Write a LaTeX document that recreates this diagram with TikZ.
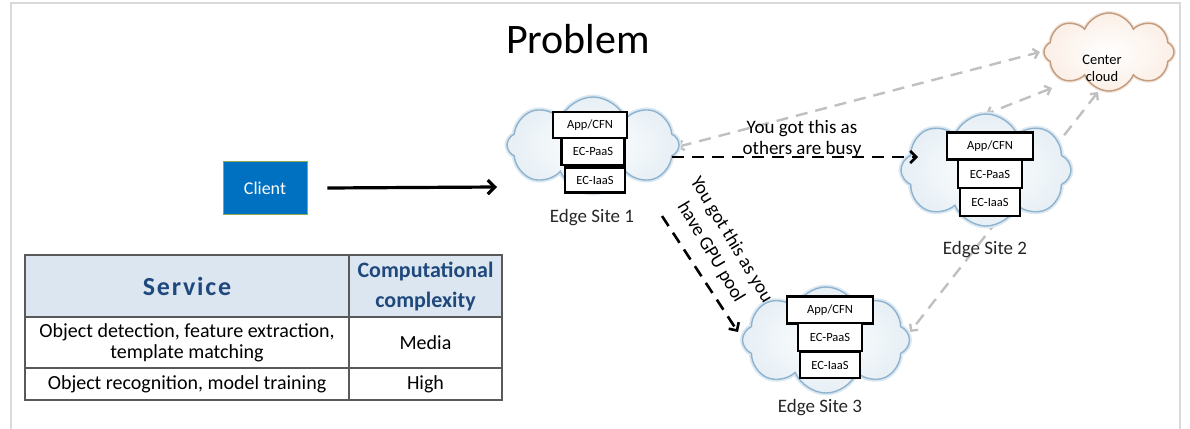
\documentclass[tikz,border=0pt]{standalone}
\usepackage{fontspec}
\setmainfont{Carlito}
\newfontfamily\spacedfont[LetterSpace=7]{Carlito}
\usetikzlibrary{shapes.symbols,arrows.meta,calc,backgrounds}
\definecolor{framegray}{HTML}{D9D9D9}
\definecolor{arrgray}{HTML}{C0C0C0}
\definecolor{cloudedge}{HTML}{8FB3CE}
\definecolor{cloudglow}{HTML}{DCE8F1}
\definecolor{cloudouter}{HTML}{E6EFF5}
\definecolor{ccedge}{HTML}{C29A7C}
\definecolor{ccglow}{HTML}{F1E4DA}
\definecolor{ccouter}{HTML}{FBEFE6}
\definecolor{clientblue}{HTML}{0070C0}
\definecolor{clientedge}{HTML}{8FA84A}
\definecolor{hdrfill}{HTML}{DCE6F1}
\definecolor{hdrtext}{HTML}{1F497D}
\definecolor{tblline}{HTML}{595959}
\begin{document}
\begin{tikzpicture}[x=1pt,y=-1pt,
  edgecloud/.style={cloud, cloud puffs=8, cloud puff arc=135, cloud ignores aspect, draw=cloudedge, line width=1.4pt, inner sep=0pt,
    preaction={draw=cloudglow, line width=5pt},
    shading=radial, inner color=white, outer color=cloudouter},
  centercloud/.style={cloud, cloud puffs=8, cloud puff arc=135, cloud ignores aspect, draw=ccedge, line width=1.4pt, inner sep=0pt,
    preaction={draw=ccglow, line width=4pt},
    shading=radial, inner color=white, outer color=ccouter},
  layerbox/.style={draw=black, line width=2.2pt, fill=white, inner sep=0pt, font=\fontsize{12.5}{13}\selectfont},
  sitelabel/.style={font=\fontsize{19}{21}\selectfont, text=black!85},
  grayarrow/.style={draw=arrgray, line width=2.4pt, dash pattern=on 12pt off 8pt, {Straight Barb[length=5pt,width=10pt]}-{Straight Barb[length=5pt,width=10pt]}},
  blackdash/.style={draw=black, line width=2.6pt, dash pattern=on 12pt off 8pt, -{Straight Barb[length=6pt,width=12pt]}},
  solidarrow/.style={draw=black, line width=3.2pt, -{Straight Barb[length=7pt,width=14pt]}},
  cell/.style={draw=tblline, line width=1.2pt, inner sep=0pt, align=center, anchor=center},
  hdrcell/.style={cell, fill=hdrfill, text=hdrtext, font=\bfseries},
  bodycell/.style={cell, font=\fontsize{20}{21}\selectfont, text=black},
  note/.style={font=\fontsize{19}{21.5}\selectfont, align=center, text=black}
]
\useasboundingbox (0,0) rectangle (1190,428);

% title
\node[anchor=base, font=\fontsize{42}{46}\selectfont] (title) at (578,53) {Problem};

% clouds
\node[edgecloud, minimum width=172pt, minimum height=96pt] (e1) at (593,145) {};
\node[edgecloud, minimum width=170pt, minimum height=112pt] (e2) at (986,170) {};
\node[edgecloud, minimum width=167pt, minimum height=106pt] (e3) at (826,340) {};
\node[centercloud, minimum width=130pt, minimum height=78pt] (cc) at (1109,52) {};
\node[font=\fontsize{14.5}{17}\selectfont, align=center] (cctext) at (1102,68) {Center\\cloud};

% stacks
\node[layerbox, minimum width=74pt, minimum height=26pt] (a1) at (590,125) {App/CFN};
\node[layerbox, minimum width=63pt, minimum height=27pt] (p1) at (593,151.5) {EC-PaaS};
\node[layerbox, minimum width=60pt, minimum height=25pt] (i1) at (595,180) {EC-IaaS};

\node[layerbox, minimum width=86pt, minimum height=27pt] (a2) at (990,146) {App/CFN};
\node[layerbox, minimum width=64pt, minimum height=28pt] (p2) at (990,174) {EC-PaaS};
\node[layerbox, minimum width=60pt, minimum height=28pt] (i2) at (990,202) {EC-IaaS};

\node[layerbox, minimum width=86pt, minimum height=27pt] (a3) at (830,310) {App/CFN};
\node[layerbox, minimum width=64pt, minimum height=28pt] (p3) at (830,337) {EC-PaaS};
\node[layerbox, minimum width=60pt, minimum height=26pt] (i3) at (830,365) {EC-IaaS};

% site labels
\node[sitelabel] (l1) at (592,218) {Edge Site 1};
\node[sitelabel] (l2) at (985,250) {Edge Site 2};
\node[sitelabel] (l3) at (820,408) {Edge Site 3};

% client
\node[draw=clientedge, line width=0.8pt, fill=clientblue, text=white, minimum width=84pt, minimum height=53pt, font=\fontsize{18}{20}\selectfont] (client) at (265,188) {Client};

% connector labels
\node[note] (busy) at (802,139) {You got this as\\others are busy};
\node[note, rotate=-59, font=\fontsize{19}{24}\selectfont] (gpu) at (721,246) {You got this as you\\have GPU pool};

% black arrows
\draw[solidarrow] ($(client.east)+(20,0)$) -- ($(e1)+(-96,42)$);
\draw[blackdash] ($(e1)+(79,12)$) -- ($(e2)+(-68,-13)$);
\draw[blackdash] ($(e1)+(69,71)$) -- ($(e3)+(-88,-8)$);

% table
\node[hdrcell, minimum width=324pt, minimum height=62pt, font=\spacedfont\bfseries\fontsize{26}{28}\selectfont] (h1) at (187,286) {Service};
\node[hdrcell, minimum width=153pt, minimum height=62pt, font=\bfseries\fontsize{22}{30}\selectfont] (h2) at (425.5,286) {Computational\\complexity};
\node[bodycell, minimum width=324pt, minimum height=51pt] (r1a) at (187,342.5) {Object detection, feature extraction,\\template matching};
\node[bodycell, minimum width=153pt, minimum height=51pt] (r1b) at (425.5,342.5) {Media};
\node[bodycell, minimum width=324pt, minimum height=32pt] (r2a) at (187,384) {Object recognition, model training};
\node[bodycell, minimum width=153pt, minimum height=32pt] (r2b) at (425.5,384) {High};

% background: frame and gray arrows
\begin{pgfonlayer}{background}
  \draw[framegray, line width=2pt] (11,440) -- (11,3) -- (1180,3) -- (1180,440);
  \draw[grayarrow] ($(e1)+(84,2)$) -- ($(cc)+(-69,0)$);
  \draw[grayarrow] ($(cc)+(-57,36)$) -- ($(e2)+(0,-56)$);
  \draw[grayarrow] ($(cc)+(-11,40)$) -- ($(e3)+(84,-8)$);
\end{pgfonlayer}
\end{tikzpicture}
\end{document}
